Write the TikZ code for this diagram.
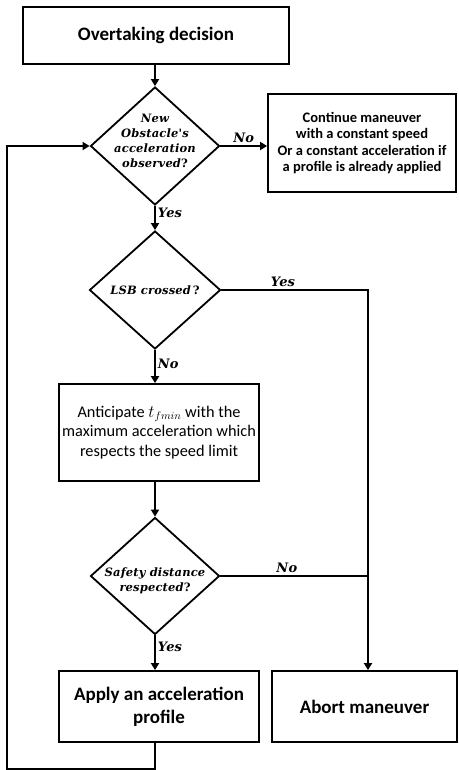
\documentclass[tikz,border=0pt]{standalone}
\usepackage{fontspec}
\setmainfont{Carlito}
\newfontfamily\dfont[LetterSpace=1.5]{DejaVu Serif}
\usetikzlibrary{shapes.geometric,arrows.meta}
\begin{document}
\begin{tikzpicture}[x=1pt,y=-1pt, line width=1.8pt,
  box/.style={draw, rectangle, inner sep=0pt, align=center},
  dia/.style={draw, diamond, inner sep=0pt},
  dtext/.style={font=\dfont\bfseries\itshape\fontsize{11.5}{15}\selectfont, align=center},
  lbl/.style={font=\dfont\bfseries\itshape\fontsize{13}{15}\selectfont, inner sep=2pt},
  arr/.style={-{Triangle[length=7pt,width=8pt]}, line width=1.8pt}]
\useasboundingbox (0,0) rectangle (458,770);

\node[box, minimum width=266pt, minimum height=57pt, font=\bfseries\fontsize{19}{22}\selectfont] (top) at (156,35.5) {Overtaking decision};

\node[dia, minimum width=129pt, minimum height=118pt] (d1) at (155,146) {};
\node[dtext, yshift=5pt] at (d1) {New\\Obstacle's\\acceleration\\observed{\upshape ?}};

\node[box, minimum width=188pt, minimum height=98pt, font=\bfseries\fontsize{14.5}{16.5}\selectfont] (cont) at (362,143) {Continue maneuver\\with a constant speed\\Or a constant acceleration if\\a profile is already applied};

\node[dia, minimum width=131pt, minimum height=118pt] (d2) at (155,290) {};
\node[dtext] at (d2) {LSB crossed\,{\upshape ?}};

\node[box, minimum width=200pt, minimum height=97pt, font=\fontsize{16.3}{19.5}\selectfont] (ant) at (159,432.5) {Anticipate $t_{fmin}$ with the\\maximum acceleration which\\respects the speed limit};

\node[dia, minimum width=129pt, minimum height=117pt] (d3) at (155,576) {};
\node[dtext, yshift=-5pt] at (d3) {Safety distance\\respected{\upshape ?}};

\node[box, minimum width=200pt, minimum height=71pt, font=\bfseries\fontsize{19}{23}\selectfont] (apply) at (159,706.5) {Apply an acceleration\\profile};

\node[box, minimum width=185pt, minimum height=71pt, font=\bfseries\fontsize{19}{23}\selectfont] (abort) at (364.5,706.5) {Abort maneuver};

\coordinate (rx) at (368,0);
\coordinate (lx) at (7,769);

\draw[arr] (top.south -| d1) -- (d1.north);
\draw[arr] (d1.east) -- node[lbl, above, pos=0.5] {No} (d1.east -| cont.west);
\draw[arr] (d1.south) -- node[lbl, right, pos=0.3] {Yes} (d2.north);
\draw[arr] (d2.east) -- node[lbl, above, pos=0.42] {Yes} (d2.east -| rx) -- (rx |- abort.north);
\draw[arr] (d2.south) -- node[lbl, right, pos=0.43] {No} (ant.north -| d2);
\draw[arr] (ant.south -| d3) -- (d3.north);
\draw (d3.east) -- node[lbl, above, pos=0.45] {No} (d3.east -| rx);
\draw[arr] (d3.south) -- node[lbl, right, pos=0.32] {Yes} (apply.north -| d3);
\draw[arr] (apply.south -| d3) -- (d3 |- lx) -- (lx) -- (lx |- d1) -- (d1.west);
\end{tikzpicture}
\end{document}
